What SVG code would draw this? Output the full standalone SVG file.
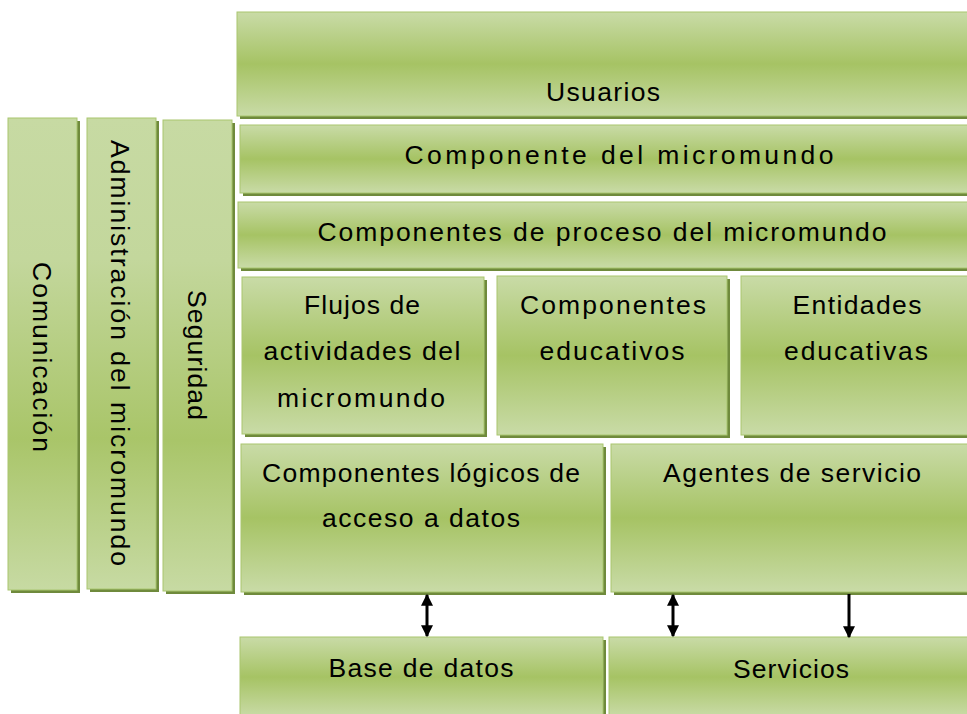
<svg xmlns="http://www.w3.org/2000/svg" width="967" height="714" viewBox="0 0 967 714">
<defs>
<linearGradient id="gh" x1="0" y1="0" x2="0" y2="1">
<stop offset="0" stop-color="#c9dba7"/>
<stop offset="0.5" stop-color="#a6c364"/>
<stop offset="1" stop-color="#c9dba7"/>
</linearGradient>
<linearGradient id="gv" x1="0" y1="0" x2="0" y2="1">
<stop offset="0" stop-color="#c7daa3"/>
<stop offset="0.3" stop-color="#c3d79c"/>
<stop offset="0.68" stop-color="#a9c569"/>
<stop offset="1" stop-color="#c7daa3"/>
</linearGradient>
<marker id="ah" viewBox="0 0 10 10" refX="9" refY="5" markerWidth="4.5" markerHeight="4" orient="auto-start-reverse" markerUnits="strokeWidth">
<path d="M0,0 L10,5 L0,10 Z" fill="#000"/>
</marker>
</defs>
<style>
.sh{fill:#6f8a3c}
.bx{fill:url(#gh);stroke:#a9c66f;stroke-width:1}
.bv{fill:url(#gv);stroke:#a9c66f;stroke-width:1}
.t{font-family:"Liberation Sans",Arial,sans-serif;font-size:26.5px;fill:#000;text-anchor:middle}
.ar{stroke:#000;stroke-width:3;fill:none}
</style>
<rect width="967" height="714" fill="#fff"/>

<g id="comunicacion">
<rect class="sh" x="11" y="121" width="69" height="472"/>
<rect class="bv" x="8" y="118" width="69" height="472"/>
<text class="t" transform="translate(33,357) rotate(90)" textLength="190" lengthAdjust="spacing">Comunicación</text>
</g>
<g id="administracion">
<rect class="sh" x="90" y="121" width="69" height="471"/>
<rect class="bv" x="87" y="118" width="69" height="471"/>
<text class="t" transform="translate(111,353) rotate(90)" textLength="426" lengthAdjust="spacing">Administración del micromundo</text>
</g>
<g id="seguridad">
<rect class="sh" x="166" y="123" width="69" height="471"/>
<rect class="bv" x="163" y="120" width="69" height="471"/>
<text class="t" transform="translate(188,355) rotate(90)" textLength="130" lengthAdjust="spacing">Seguridad</text>
</g>

<g id="usuarios">
<rect class="sh" x="240" y="15" width="730" height="104"/>
<rect class="bx" x="237" y="12" width="731" height="104"/>
<text class="t" x="603" y="101" textLength="114" lengthAdjust="spacing">Usuarios</text>
</g>
<g id="componente-micromundo">
<rect class="sh" x="243" y="128" width="727" height="68"/>
<rect class="bx" x="240" y="125" width="728" height="68"/>
<text class="t" x="619" y="164" textLength="429" lengthAdjust="spacing">Componente del micromundo</text>
</g>
<g id="componentes-proceso">
<rect class="sh" x="241" y="205" width="729" height="66"/>
<rect class="bx" x="238" y="202" width="730" height="66"/>
<text class="t" x="602" y="241" textLength="569" lengthAdjust="spacing">Componentes de proceso del micromundo</text>
</g>
<g id="flujos">
<rect class="sh" x="245" y="280" width="242" height="157"/>
<rect class="bx" x="242" y="277" width="242" height="157"/>
<text class="t" x="362" y="314" textLength="116" lengthAdjust="spacing">Flujos de</text>
<text class="t" x="362" y="360" textLength="197" lengthAdjust="spacing">actividades del</text>
<text class="t" x="361" y="407" textLength="168" lengthAdjust="spacing">micromundo</text>
</g>
<g id="componentes-educativos">
<rect class="sh" x="500" y="279" width="230" height="159"/>
<rect class="bx" x="497" y="276" width="230" height="159"/>
<text class="t" x="613" y="314" textLength="186" lengthAdjust="spacing">Componentes</text>
<text class="t" x="612" y="360" textLength="145" lengthAdjust="spacing">educativos</text>
</g>
<g id="entidades-educativas">
<rect class="sh" x="744" y="279" width="226" height="159"/>
<rect class="bx" x="741" y="276" width="227" height="159"/>
<text class="t" x="857" y="314" textLength="129" lengthAdjust="spacing">Entidades</text>
<text class="t" x="856" y="360" textLength="144" lengthAdjust="spacing">educativas</text>
</g>
<g id="componentes-logicos">
<rect class="sh" x="244" y="447" width="362" height="148"/>
<rect class="bx" x="241" y="444" width="362" height="148"/>
<text class="t" x="421" y="482" textLength="318" lengthAdjust="spacing">Componentes lógicos de</text>
<text class="t" x="421" y="527" textLength="198" lengthAdjust="spacing">acceso a datos</text>
</g>
<g id="agentes-servicio">
<rect class="sh" x="614" y="447" width="356" height="148"/>
<rect class="bx" x="611" y="444" width="357" height="148"/>
<text class="t" x="792" y="482" textLength="258" lengthAdjust="spacing">Agentes de servicio</text>
</g>
<g id="base-datos">
<rect class="sh" x="243" y="640" width="363" height="80"/>
<rect class="bx" x="240" y="637" width="363" height="80"/>
<text class="t" x="421" y="677" textLength="185" lengthAdjust="spacing">Base de datos</text>
</g>
<g id="servicios">
<rect class="sh" x="612" y="640" width="358" height="80"/>
<rect class="bx" x="609" y="637" width="359" height="80"/>
<text class="t" x="791" y="678" textLength="116" lengthAdjust="spacing">Servicios</text>
</g>

<g id="connectors">
<line class="ar" x1="427" y1="595" x2="427" y2="636" marker-start="url(#ah)" marker-end="url(#ah)"/>
<line class="ar" x1="673" y1="595" x2="673" y2="636" marker-start="url(#ah)" marker-end="url(#ah)"/>
<line class="ar" x1="849" y1="594" x2="849" y2="637" marker-end="url(#ah)"/>
</g>
</svg>
